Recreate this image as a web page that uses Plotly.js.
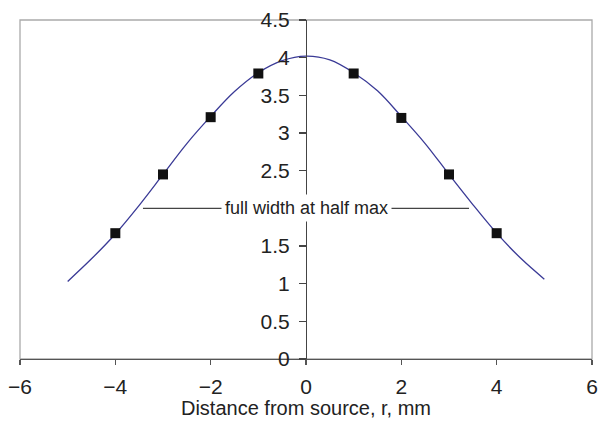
<!DOCTYPE html>
<html>
<head>
<meta charset="utf-8">
<script src="https://cdn.plot.ly/plotly-3.0.1.min.js"></script>
<style>html,body{margin:0;padding:0;background:#fff;}#chart{width:598px;height:421px;}</style>
</head>
<body>
<div id="chart"></div>
<script>
// Fitted curve
const curveX = [-5, -4.5, -4, -3.5, -3, -2.5, -2, -1.5, -1, -0.5, 0, 0.5, 1, 1.5, 2, 2.5, 3, 3.5, 4, 4.5, 5];
const curveY = [1.03, 1.33, 1.66, 2.04, 2.45, 2.86, 3.22, 3.55, 3.80, 3.96, 4.02, 3.97, 3.80, 3.56, 3.22, 2.86, 2.45, 2.05, 1.67, 1.34, 1.06];
// Measured points
const pointX = [-4, -3, -2, -1, 1, 2, 3, 4];
const pointY = [1.67, 2.45, 3.21, 3.79, 3.79, 3.20, 2.45, 1.67];
// Full width at half max marker
const fwhmX = [-3.42, 3.42];
const fwhmY = [2.0, 2.0];
const fwhmLabel = "full width at half max";
const xTicks = [-6, -4, -2, 0, 2, 4, 6];
const yTicks = [0, 0.5, 1, 1.5, 2, 2.5, 3, 3.5, 4, 4.5];
const yTickText = ["0", "0.5", "1", "1.5", "", "2.5", "3", "3.5", "4", "4.5"]; // "2" is hidden behind the label
const xTitle = "Distance from source, r, mm";

const font = "Liberation Sans, Arial, sans-serif";
const traces = [
  {x: curveX, y: curveY, mode: "lines", line: {color: "#3a3a96", width: 1.3, shape: "spline", smoothing: 1}, hoverinfo: "skip"},
  {x: pointX, y: pointY, mode: "markers", marker: {symbol: "square", size: 10, color: "#111"}},
  {x: fwhmX, y: fwhmY, mode: "lines", line: {color: "#444", width: 1.3}}
];
const layout = {
  width: 598, height: 421,
  margin: {l: 20, r: 6, t: 20, b: 62},
  showlegend: false,
  paper_bgcolor: "#fff", plot_bgcolor: "#fff",
  font: {family: font, color: "#222", size: 21},
  xaxis: {
    range: [-6, 6], tickvals: xTicks, showgrid: false, zeroline: false,
    showline: true, linecolor: "#555", linewidth: 1.3,
    ticks: "outside", ticklen: 5, tickcolor: "#555", tickwidth: 1.3,
    ticklabelstandoff: 3,
    tickfont: {size: 21, family: font, color: "#222"},
    title: {text: xTitle, font: {size: 20, family: font, color: "#222"}, standoff: 2}
  },
  yaxis: {
    range: [0, 4.5], tickvals: yTicks, ticktext: yTickText,
    showgrid: false, zeroline: false,
    anchor: "free", position: 0.5,
    showline: true, linecolor: "#444", linewidth: 1.3,
    ticks: "outside", ticklen: 7, tickcolor: "#444", tickwidth: 1.3,
    ticklabelstandoff: 5,
    tickfont: {size: 21, family: font, color: "#222"}
  },
  shapes: [
    {type: "rect", xref: "paper", yref: "paper", x0: 0, x1: 1, y0: 0, y1: 1,
     line: {color: "#aaa", width: 1.3}, layer: "below"}
  ],
  annotations: [
    {x: 0, y: fwhmY[0], xref: "x", yref: "y", text: fwhmLabel, showarrow: false,
     font: {size: 18, family: font, color: "#222"}, bgcolor: "#fff", borderpad: 3}
  ]
};
Plotly.newPlot("chart", traces, layout, {displayModeBar: false, staticPlot: true});
</script>
</body>
</html>
